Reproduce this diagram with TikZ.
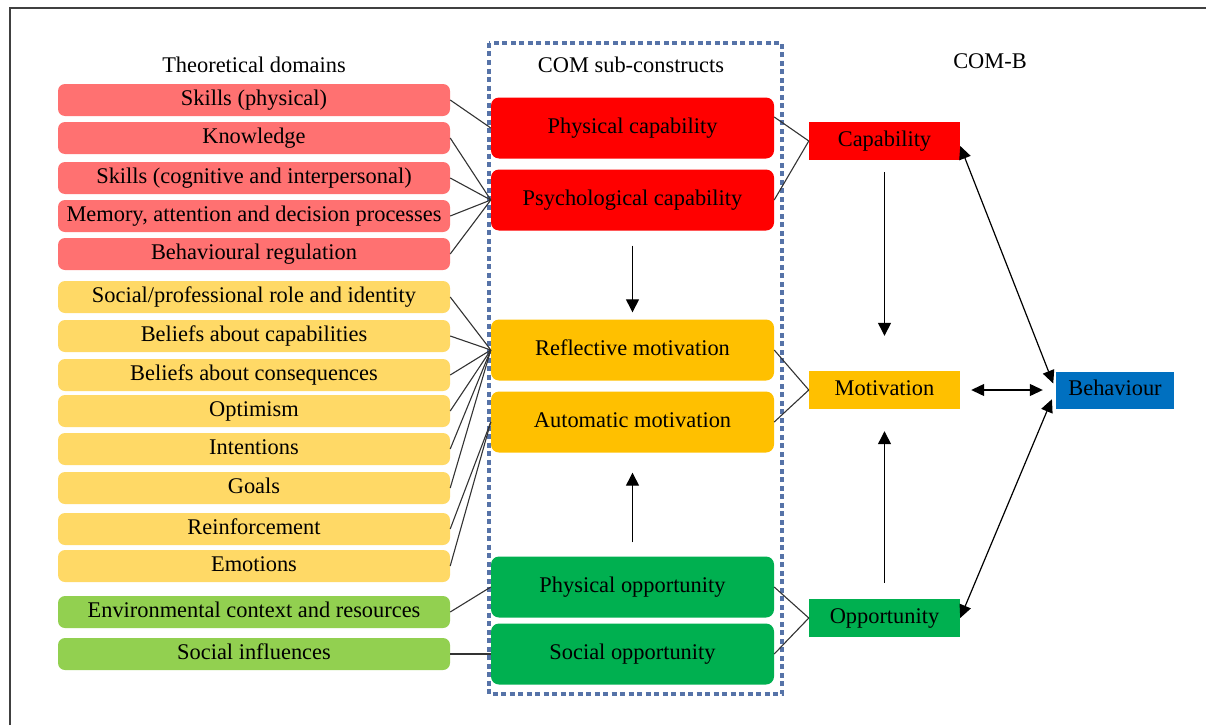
\documentclass[tikz,border=0pt]{standalone}
\usepackage{fontspec}
\setmainfont{Liberation Serif}
\usetikzlibrary{arrows.meta}
\definecolor{domred}{HTML}{FF7171}
\definecolor{domyel}{HTML}{FFD966}
\definecolor{domgrn}{HTML}{92D050}
\definecolor{comred}{HTML}{FF0000}
\definecolor{comyel}{HTML}{FFC000}
\definecolor{comgrn}{HTML}{00B050}
\definecolor{behblue}{HTML}{0070C0}
\definecolor{framegray}{HTML}{404040}
\definecolor{dashblue}{HTML}{5673A8}
\begin{document}
\begin{tikzpicture}[x=1pt,y=-1pt,
  font=\fontsize{22.4}{26}\selectfont,
  tdbox/.style={rounded corners=7pt, minimum width=392pt, minimum height=32pt,
    inner sep=0pt, text height=16pt, text depth=5pt},
  subbox/.style={rounded corners=8pt, minimum width=283pt, minimum height=61pt,
    inner sep=0pt, text height=16pt, text depth=5pt},
  combbox/.style={minimum width=151pt, minimum height=38pt,
    inner sep=0pt, text height=16pt, text depth=5pt},
  link/.style={draw=black!80, line width=1.1pt},
  flow/.style={draw=black, line width=1.3pt, -{Triangle[length=13pt,width=13pt]}},
  both/.style={draw=black, line width=1.2pt,
    {Triangle[length=13pt,width=12pt]}-{Triangle[length=13pt,width=12pt]}},
  heading/.style={anchor=base, inner sep=0pt}]

\useasboundingbox (0,0) rectangle (1206,725);

% open frame
\draw[framegray, line width=2.5pt] (10,725) -- (10,8) -- (1206,8);

% column headings
\node[heading] (h1) at (254,72) {Theoretical domains};
\node[heading] (h2) at (631,72) {COM sub-constructs};
\node[heading] (h3) at (990,68) {COM-B};

% dashed frame round the sub-constructs
\draw[dashblue, line width=3.5pt, dash pattern=on 5pt off 3.5pt] (489,43) rectangle (782,694);

% theoretical domains
\node[tdbox, fill=domred] (d1)  at (254,100) {Skills (physical)};
\node[tdbox, fill=domred] (d2)  at (254,138) {Knowledge};
\node[tdbox, fill=domred] (d3)  at (254,178) {Skills (cognitive and interpersonal)};
\node[tdbox, fill=domred] (d4)  at (254,216) {Memory, attention and decision processes};
\node[tdbox, fill=domred] (d5)  at (254,254) {Behavioural regulation};
\node[tdbox, fill=domyel] (d6)  at (254,297) {Social/professional role and identity};
\node[tdbox, fill=domyel] (d7)  at (254,336) {Beliefs about capabilities};
\node[tdbox, fill=domyel] (d8)  at (254,375) {Beliefs about consequences};
\node[tdbox, fill=domyel] (d9)  at (254,411) {Optimism};
\node[tdbox, fill=domyel] (d10) at (254,449) {Intentions};
\node[tdbox, fill=domyel] (d11) at (254,488) {Goals};
\node[tdbox, fill=domyel] (d12) at (254,529) {Reinforcement};
\node[tdbox, fill=domyel] (d13) at (254,566) {Emotions};
\node[tdbox, fill=domgrn] (d14) at (254,612) {Environmental context and resources};
\node[tdbox, fill=domgrn] (d15) at (254,654) {Social influences};

% COM sub-constructs
\node[subbox, fill=comred] (pc)  at (632.5,128) {Physical capability};
\node[subbox, fill=comred] (psc) at (632.5,200) {Psychological capability};
\node[subbox, fill=comyel] (rm)  at (632.5,350) {Reflective motivation};
\node[subbox, fill=comyel] (am)  at (632.5,422) {Automatic motivation};
\node[subbox, fill=comgrn] (po)  at (632.5,587) {Physical opportunity};
\node[subbox, fill=comgrn] (so)  at (632.5,654) {Social opportunity};

% COM-B
\node[combbox, fill=comred] (cap) at (884.5,141) {Capability};
\node[combbox, fill=comyel] (mot) at (884.5,390) {Motivation};
\node[combbox, fill=comgrn] (opp) at (884.5,618) {Opportunity};
\node[combbox, fill=behblue, minimum width=118pt, minimum height=37pt] (beh) at (1115,390) {Behaviour};

% domains to sub-constructs
\draw[link] (d1.east) -- (pc.west);
\foreach \d in {d2,d3,d4,d5} \draw[link] (\d.east) -- (psc.west);
\foreach \d in {d6,d7,d8,d9,d10,d11} \draw[link] (\d.east) -- (rm.west);
\foreach \d in {d12,d13} \draw[link] (\d.east) -- (am.west);
\draw[link] (d14.east) -- (po.west);
\draw[link] (d15.east) -- (so.west);

% sub-constructs to COM-B
\draw[link] ([yshift=11pt]pc.east) -- (cap.west);
\draw[link] (psc.east) -- (cap.west);
\draw[link] (rm.east) -- (mot.west);
\draw[link] (am.east) -- (mot.west);
\draw[link] (po.east) -- (opp.west);
\draw[link] (so.east) -- (opp.west);

% influences between components
\draw[flow, shorten <=15pt, shorten >=7pt] (psc.south) -- (rm.north);
\draw[flow, shorten <=14pt, shorten >=20pt] (po.north) -- (am.south);
\draw[flow, shorten <=12pt, shorten >=35pt] (cap.south) -- (mot.north);
\draw[flow, shorten <=16pt, shorten >=22pt] (opp.north) -- (mot.south);

% links with behaviour
\draw[both, shorten >=7pt] ([yshift=-5pt]cap.east) -- (beh.west);
\draw[both, shorten <=11pt, shorten >=13pt] (mot.east) -- (beh.west);
\draw[both, shorten >=10pt] (opp.east) -- (beh.west);

\end{tikzpicture}
\end{document}
